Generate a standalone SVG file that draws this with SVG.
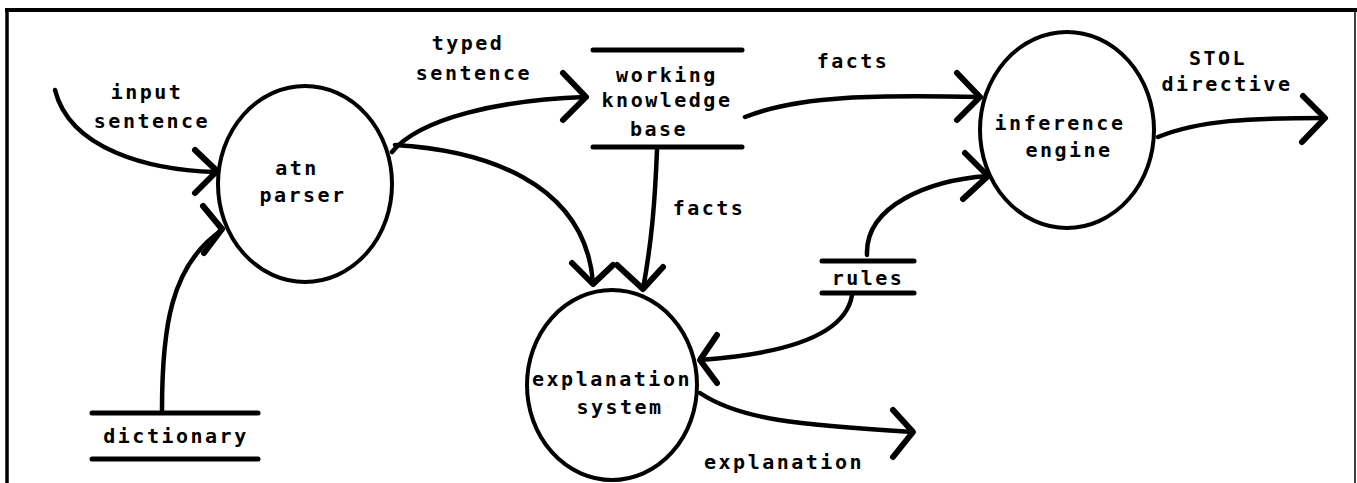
<svg xmlns="http://www.w3.org/2000/svg" width="1357" height="483" viewBox="0 0 1357 483">
<style>
.t{font-family:"DejaVu Sans Mono","Liberation Mono",monospace;font-weight:bold;font-size:20px;letter-spacing:2.5px;fill:#000;text-anchor:middle}
.proc{fill:#fff;stroke:#000;stroke-width:4}
.store{stroke:#000;stroke-width:5;stroke-linecap:round}
.flow{fill:none;stroke:#000;stroke-width:4.5;stroke-linecap:round}
.head{fill:none;stroke:#000;stroke-width:6;stroke-linecap:round;stroke-linejoin:round}
</style>
<rect width="1357" height="483" fill="#fff"/>
<g id="frame">
<line x1="5" y1="10" x2="1357" y2="10" stroke="#000" stroke-width="4"/>
<line x1="7" y1="9" x2="7" y2="483" stroke="#000" stroke-width="3.5"/>
<line x1="1355" y1="12" x2="1355" y2="483" stroke="#000" stroke-width="1.5"/>
</g>
<g id="connectors">
<path class="flow" d="M55,90 C70,150 150,170 215,172"/>
<path class="head" d="M195,150 L217,171 L195,193"/>
<path class="flow" d="M162,410 C162,330 170,265 222,230"/>
<path class="head" d="M203,206 L222,229 L204,253"/>
<path class="flow" d="M392,152 C420,118 500,100 585,97"/>
<path class="head" d="M563,73 L586,97 L563,120"/>
<path class="flow" d="M395,145 C480,150 585,180 593,283"/>
<path class="head" d="M572,263 L593,284 L613,265"/>
<path class="flow" d="M657,150 C655,200 652,240 643,289"/>
<path class="head" d="M617,265 L643,289 L663,267"/>
<path class="flow" d="M745,117 C800,95 880,95 980,97"/>
<path class="head" d="M957,73 L980,97 L957,120"/>
<path class="flow" d="M867,255 C865,205 930,180 988,176"/>
<path class="head" d="M965,153 L988,176 L963,199"/>
<path class="flow" d="M852,295 C845,340 770,355 700,360"/>
<path class="head" d="M717,335 L700,360 L717,383"/>
<path class="flow" d="M700,393 C740,420 800,425 913,432"/>
<path class="head" d="M893,410 L913,432 L893,457"/>
<path class="flow" d="M1158,137 C1200,120 1250,118 1325,118"/>
<path class="head" d="M1303,96 L1325,118 L1302,142"/>
</g>
<g id="labels">
<text class="t" x="147" y="99">input</text>
<text class="t" x="152" y="128">sentence</text>
<text class="t" x="468" y="50">typed</text>
<text class="t" x="474" y="80">sentence</text>
<text class="t" x="853" y="68">facts</text>
<text class="t" x="709" y="215">facts</text>
<text class="t" x="1218" y="65">STOL</text>
<text class="t" x="1227" y="91">directive</text>
<text class="t" x="784" y="469">explanation</text>
</g>
<g id="atn-parser">
<ellipse class="proc" cx="305" cy="184" rx="87" ry="98"/>
<text class="t" x="297" y="175">atn</text>
<text class="t" x="303" y="202">parser</text>
</g>
<g id="working-knowledge-base">
<line class="store" x1="593" y1="50" x2="742" y2="50"/>
<line class="store" x1="593" y1="147" x2="742" y2="147"/>
<text class="t" x="667" y="82">working</text>
<text class="t" x="667" y="107">knowledge</text>
<text class="t" x="659" y="136">base</text>
</g>
<g id="inference-engine">
<ellipse class="proc" cx="1067" cy="130" rx="87" ry="98"/>
<text class="t" x="1060" y="130">inference</text>
<text class="t" x="1069" y="157">engine</text>
</g>
<g id="rules">
<line class="store" x1="822" y1="261" x2="914" y2="261"/>
<line class="store" x1="822" y1="293" x2="914" y2="293"/>
<text class="t" x="868" y="285">rules</text>
</g>
<g id="explanation-system">
<ellipse class="proc" cx="612" cy="385" rx="85" ry="95"/>
<text class="t" x="612" y="386">explanation</text>
<text class="t" x="620" y="414">system</text>
</g>
<g id="dictionary">
<line class="store" x1="92" y1="413" x2="258" y2="413"/>
<line class="store" x1="92" y1="459" x2="258" y2="459"/>
<text class="t" x="176" y="443">dictionary</text>
</g>
</svg>
